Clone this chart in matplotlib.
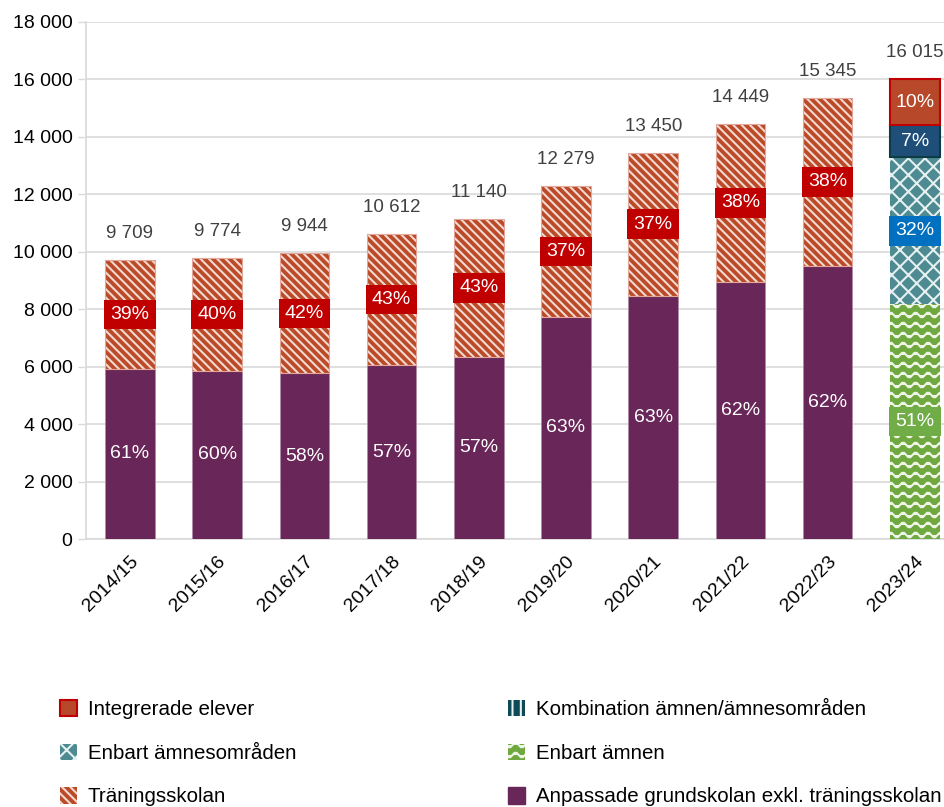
import warnings
warnings.filterwarnings("ignore")
import numpy as np
import matplotlib
matplotlib.use("Agg")
import matplotlib.pyplot as plt
import matplotlib.hatch as mhatch
from matplotlib.path import Path
from matplotlib.patches import Patch

# ---------------- data ----------------
years = ["2014/15", "2015/16", "2016/17", "2017/18", "2018/19",
         "2019/20", "2020/21", "2021/22", "2022/23", "2023/24"]
totals = [9709, 9774, 9944, 10612, 11140, 12279, 13450, 14449, 15345, 16015]
total_labels = ["9 709", "9 774", "9 944", "10 612", "11 140",
                "12 279", "13 450", "14 449", "15 345", "16 015"]
anpassade = [5922, 5864, 5768, 6049, 6350, 7736, 8474, 8958, 9514]
traning = [3787, 3910, 4176, 4563, 4790, 4543, 4976, 5491, 5831]
anpassade_pct = ["61%", "60%", "58%", "57%", "57%", "63%", "63%", "62%", "62%"]
traning_pct = ["39%", "40%", "42%", "43%", "43%", "37%", "37%", "38%", "38%"]
# 2023/24 new categories
enbart_amnen = 8168
enbart_omraden = 5125
kombination = 1121
integrerade = 1601
new_pct = ["51%", "32%", "7%", "10%"]
yticks = [0, 2000, 4000, 6000, 8000, 10000, 12000, 14000, 16000, 18000]
ytick_labels = ["0", "2 000", "4 000", "6 000", "8 000", "10 000",
                "12 000", "14 000", "16 000", "18 000"]

# ---------------- custom wave hatch ----------------
class WaveHatch(mhatch.HatchPatternBase):
    def __init__(self, hatch, density):
        self.num_lines = 10 if '~' in hatch else 0
        self.npts = 49
        self.num_vertices = self.num_lines * self.npts

    def set_vertices_and_codes(self, vertices, codes):
        steps = np.linspace(0.0, 1.0, self.num_lines, endpoint=False) + 0.05
        xs = np.linspace(0.0, 1.0, self.npts)
        for i, s in enumerate(steps):
            sl = slice(i * self.npts, (i + 1) * self.npts)
            vertices[sl, 0] = xs
            vertices[sl, 1] = s + 0.025 * np.sin(2 * np.pi * 8 * xs)
            codes[sl] = Path.LINETO
            codes[i * self.npts] = Path.MOVETO

mhatch._hatch_types.append(WaveHatch)

plt.rcParams['font.family'] = ['Liberation Sans', 'DejaVu Sans']
plt.rcParams['hatch.linewidth'] = 1.5

C_PURPLE = "#692658"
C_TRAN = "#BA4A28"
C_TEAL = "#4E8A92"
C_GREEN = "#6FA83F"
C_KOMB = "#1F4E79"
C_INT = "#B8482A"

fig = plt.figure(figsize=(9.45, 8.07), dpi=100)
ax = fig.add_axes([86.4 / 945, 268 / 807, 872 / 945, 517 / 807])

x = np.arange(len(years))
w = 0.567
xo = x[:9]

ax.bar(xo, anpassade, width=w, color=C_PURPLE, edgecolor="#B08AA8", linewidth=0.6, zorder=3)
ax.bar(xo, traning, width=w, bottom=anpassade, color=C_TRAN, edgecolor="#F3D9D0",
       hatch="\\\\\\\\", linewidth=0, zorder=3)
ax.bar(xo, traning, width=w, bottom=anpassade, fill=False, edgecolor="#E2A79A",
       linewidth=0.8, zorder=3)

# 2023/24 stack
xl = x[9]
ax.bar(xl, enbart_amnen, width=w, color=C_GREEN, edgecolor="#EEF5E6", hatch="~",
       linewidth=0, zorder=3)
b1 = enbart_amnen
ax.bar(xl, enbart_omraden, width=w, bottom=b1, color=C_TEAL, edgecolor="#E6F0F0",
       hatch="xx", linewidth=0, zorder=3)
b2 = b1 + enbart_omraden
ax.bar(xl, kombination, width=w, bottom=b2, color=C_KOMB, edgecolor="#0D3B45",
       linewidth=1.5, zorder=3)
b3 = b2 + kombination
ax.bar(xl, integrerade, width=w, bottom=b3, color=C_INT, edgecolor="#C00000",
       linewidth=1.5, zorder=3)

fs_lab = 14
box = "square,pad=0.32"
# labels for old categories
for i in range(9):
    ax.text(xo[i], anpassade[i] / 2, anpassade_pct[i], ha="center", va="center",
            color="white", fontsize=fs_lab, zorder=5)
    ax.text(xo[i], anpassade[i] + traning[i] / 2, traning_pct[i], ha="center",
            va="center", color="white", fontsize=fs_lab, zorder=5,
            bbox=dict(boxstyle=box, fc="#C00000", ec="none"))

mids = [enbart_amnen / 2, b1 + enbart_omraden / 2, b2 + kombination / 2,
        b3 + integrerade / 2]
box_cols = ["#70AD47", "#0070C0", "#1F4E79", None]
for m, p, bc in zip(mids, new_pct, box_cols):
    kw = {}
    if bc:
        kw["bbox"] = dict(boxstyle=box, fc=bc, ec="none")
    ax.text(xl, m, p, ha="center", va="center", color="white", fontsize=fs_lab,
            zorder=5, **kw)

for i in range(10):
    ax.annotate(total_labels[i], (x[i], totals[i]), xytext=(0, 13),
                textcoords="offset points", ha="center", va="bottom",
                color="#404040", fontsize=13.5)

ax.set_xlim(-0.5, 9.5)
ax.set_ylim(0, 18000)
ax.set_yticks(yticks)
ax.set_yticklabels(ytick_labels)
ax.set_xticks(x)
ax.set_xticklabels(years, rotation=45, ha="right", va="top", rotation_mode="anchor")
ax.tick_params(axis="y", length=6, width=1, color="#D9D9D9", labelsize=14,
               labelcolor="black", pad=4)
ax.tick_params(axis="x", length=0, labelsize=14, labelcolor="black", pad=10)
ax.yaxis.grid(True, color="#D9D9D9", linewidth=1.2, zorder=0)
ax.set_axisbelow(True)
for s in ["top", "right"]:
    ax.spines[s].set_visible(False)
for s in ["left", "bottom"]:
    ax.spines[s].set_color("#D9D9D9")
    ax.spines[s].set_linewidth(1.2)

# legends
h_int = Patch(facecolor=C_INT, edgecolor="#C00000", linewidth=1.5, label="Integrerade elever")
h_omr = Patch(facecolor=C_TEAL, edgecolor="#E6F0F0", hatch="xx", linewidth=0, label="Enbart ämnesområden")
h_tra = Patch(facecolor=C_TRAN, edgecolor="#F3D9D0", hatch="\\\\\\\\", linewidth=0, label="Träningsskolan")
h_kom = Patch(facecolor="#0D4A55", edgecolor="#E8F0F0", hatch="||", linewidth=0, label="Kombination ämnen/ämnesområden")
h_amn = Patch(facecolor=C_GREEN, edgecolor="#EEF5E6", hatch="~", linewidth=0, label="Enbart ämnen")
h_anp = Patch(facecolor=C_PURPLE, edgecolor=C_PURPLE, linewidth=1, label="Anpassade grundskolan exkl. träningsskolan")

leg_kw = dict(frameon=False, fontsize=14.8, handlelength=0.85, handleheight=0.85,
              handletextpad=0.5, labelspacing=1.18, borderpad=0, borderaxespad=0,
              loc="upper left")
fig.legend(handles=[h_int, h_omr, h_tra], bbox_to_anchor=(60 / 945, 1 - 700 / 807), **leg_kw)
fig.legend(handles=[h_kom, h_amn, h_anp], bbox_to_anchor=(508 / 945, 1 - 700 / 807), **leg_kw)

fig.savefig("out.png", dpi=100)
